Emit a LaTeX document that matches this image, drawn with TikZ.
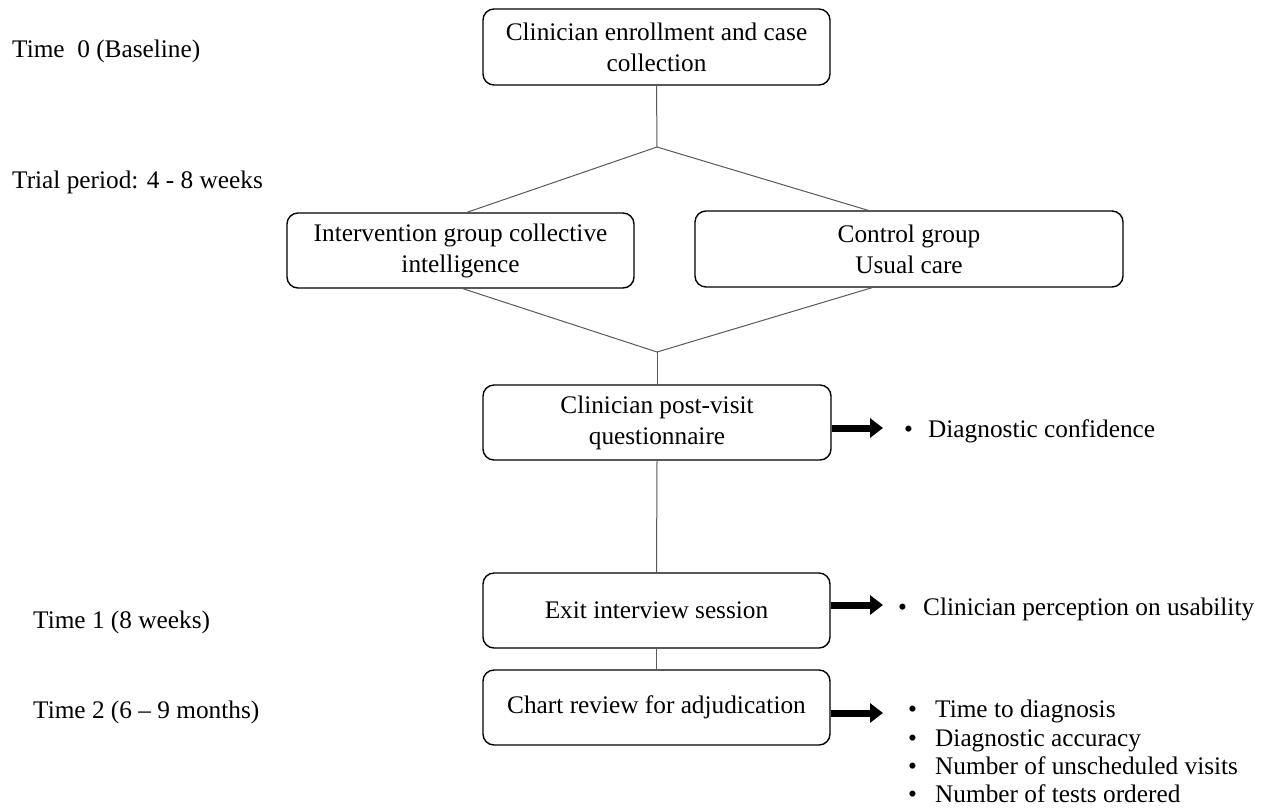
\documentclass[tikz,border=0pt]{standalone}
\usepackage{fontspec}
\setmainfont{Liberation Serif}
\usetikzlibrary{arrows.meta}
\begin{document}
\begin{tikzpicture}[x=1pt,y=-1pt,
  every node/.style={font=\fontsize{25.3}{31}\selectfont, inner sep=0pt},
  stage/.style={draw=black, line width=1.4pt, rounded corners=11pt, align=center},
  link/.style={draw=black!65, line width=1pt},
  fat/.style={line width=7pt, -{Triangle[length=13pt,width=19pt]}},
  lbl/.style={anchor=base west},
  outc/.style={anchor=base west}]
\useasboundingbox (0,0) rectangle (1266,807);

\node[stage, minimum width=347pt, minimum height=76pt] (top) at (656.5,47) {Clinician enrollment and case\\collection};
\node[stage, minimum width=347pt, minimum height=75pt] (left) at (460.5,250.5) {Intervention group collective\\intelligence};
\node[stage, minimum width=428pt, minimum height=76pt] (right) at (909,249) {Control group\\Usual care};
\node[stage, minimum width=348pt, minimum height=75pt] (post) at (657,422.5) {Clinician post-visit\\questionnaire};
\node[stage, minimum width=347pt, minimum height=75pt] (exit) at (656.5,610.5) {Exit interview session};
\node[stage, minimum width=347pt, minimum height=75pt] (chart) at (656.5,707.5) {Chart review for adjudication};

\coordinate (vt) at (657,147);
\coordinate (vb) at (657,352);

\draw[link] (top.south) -- (vt);
\draw[link] (vt) -- ([xshift=6.5pt]left.north);
\draw[link] (vt) -- ([xshift=-41pt]right.north);
\draw[link] ([xshift=2.5pt]left.south) -- (vb);
\draw[link] ([xshift=-37pt]right.south) -- (vb);
\draw[link] (vb) -- (post.north);
\draw[link] (post.south) -- (exit.north);
\draw[link] (exit.south) -- (chart.north);

\node[lbl] (t0) at (12,57) {Time\ \ 0 (Baseline)};
\node[lbl] (tp) at (12,188) {Trial period: 4 - 8 weeks};
\node[lbl] (t1) at (33,628) {Time 1 (8 weeks)};
\node[lbl] (t2) at (33,718) {Time 2 (6 -- 9 months)};

\node[outc] (o1) at (904,437) {\makebox[24pt][l]{\textbullet}Diagnostic confidence};
\node[outc] (o2) at (898,615) {\makebox[25pt][l]{\textbullet}Clinician perception on usability};
\node[outc] (o3) at (908,717) {\makebox[27pt][l]{\textbullet}Time to diagnosis};
\node[outc] (o4) at (908,746) {\makebox[27pt][l]{\textbullet}Diagnostic accuracy};
\node[outc] (o5) at (908,774) {\makebox[27pt][l]{\textbullet}Number of unscheduled visits};
\node[outc] (o6) at (908,802) {\makebox[27pt][l]{\textbullet}Number of tests ordered};

\coordinate (a1) at (883,428);
\coordinate (a2) at (883,605);
\coordinate (a3) at (883,713);
\draw[fat] (post.east |- a1) -- (a1);
\draw[fat] (exit.east |- a2) -- (a2);
\draw[fat] (chart.east |- a3) -- (a3);
\end{tikzpicture}
\end{document}
